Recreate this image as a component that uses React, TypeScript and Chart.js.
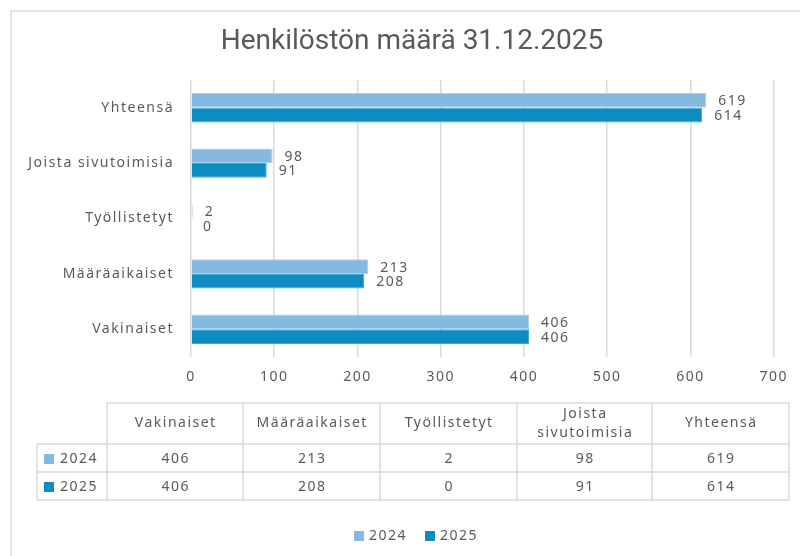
import React, { useEffect, useRef } from "react";
import { Chart, registerables } from "chart.js";

Chart.register(...registerables);

const TITLE = "Henkilöstön määrä 31.12.2025";
const categories = ["Yhteensä", "Joista sivutoimisia", "Työllistetyt", "Määräaikaiset", "Vakinaiset"];
const seriesNames = ["2024", "2025"];
const values2024 = [619, 98, 2, 213, 406];
const values2025 = [614, 91, 0, 208, 406];
const xMax = 700;
const xStep = 100;
const colors = ["#84B9E0", "#0E8BC0"];
const borderColors = ["#A9D0EE", "#3FA6D6"];

const FONT = "'Noto Sans', sans-serif";
const FSIZE = 14;
const SPACING = "1.5px";
const TEXT = "#595959";
const LINE = "#d9d9d9";

const setSpacing = (chart: any) => {
  (chart.ctx as any).letterSpacing = SPACING;
};

const decor = {
  id: "decor",
  beforeInit: setSpacing,
  beforeUpdate: setSpacing,
  beforeLayout: setSpacing,
  beforeDraw(chart: any) {
    setSpacing(chart);
    const ctx = chart.ctx as CanvasRenderingContext2D;
    ctx.save();
    ctx.fillStyle = "#ffffff";
    ctx.fillRect(0, 0, chart.width, chart.height);
    ctx.strokeStyle = LINE;
    ctx.lineWidth = 1.5;
    ctx.beginPath();
    ctx.moveTo(11, chart.height);
    ctx.lineTo(11, 11);
    ctx.lineTo(chart.width, 11);
    ctx.stroke();
    (ctx as any).letterSpacing = "0px";
    ctx.fillStyle = TEXT;
    ctx.font = "28px 'Roboto', sans-serif";
    ctx.textAlign = "center";
    ctx.textBaseline = "middle";
    ctx.fillText(TITLE, 412, 42);
    ctx.restore();
  },
  afterDatasetsDraw(chart: any) {
    const ctx = chart.ctx as CanvasRenderingContext2D;
    ctx.save();
    ctx.fillStyle = TEXT;
    ctx.font = FSIZE + "px " + FONT;
    ctx.textAlign = "left";
    ctx.textBaseline = "middle";
    chart.data.datasets.forEach((ds: any, di: number) => {
      const meta = chart.getDatasetMeta(di);
      meta.data.forEach((el: any, i: number) => {
        ctx.fillText(String(ds.data[i]), el.x + 12, el.y + 1);
      });
    });
    ctx.restore();
  },
  afterDraw(chart: any) {
    const ctx = chart.ctx as CanvasRenderingContext2D;
    ctx.save();
    const edges = [107, 243, 380, 517, 652, 789];
    const keyLeft = 37;
    const rows = [403, 444, 472, 500];
    const tableCats = [...categories].reverse();
    const tableVals = [[...values2024].reverse(), [...values2025].reverse()];
    ctx.strokeStyle = LINE;
    ctx.lineWidth = 1.5;
    ctx.beginPath();
    ctx.moveTo(edges[0], rows[0]);
    ctx.lineTo(edges[edges.length - 1], rows[0]);
    for (let r = 1; r < rows.length; r++) {
      ctx.moveTo(keyLeft, rows[r]);
      ctx.lineTo(edges[edges.length - 1], rows[r]);
    }
    edges.forEach((x) => {
      ctx.moveTo(x, rows[0]);
      ctx.lineTo(x, rows[rows.length - 1]);
    });
    ctx.moveTo(keyLeft, rows[1]);
    ctx.lineTo(keyLeft, rows[rows.length - 1]);
    ctx.stroke();

    ctx.fillStyle = TEXT;
    ctx.font = FSIZE + "px " + FONT;
    ctx.textAlign = "center";
    ctx.textBaseline = "middle";
    const half = 0.75;
    tableCats.forEach((c, i) => {
      const cx = (edges[i] + edges[i + 1]) / 2 + half;
      const w = edges[i + 1] - edges[i];
      const cy = (rows[0] + rows[1]) / 2;
      if (ctx.measureText(c).width > w - 16) {
        const words = c.split(" ");
        ctx.fillText(words[0], cx, cy - 9);
        ctx.fillText(words.slice(1).join(" "), cx, cy + 10);
      } else {
        ctx.fillText(c, cx, cy);
      }
    });
    tableVals.forEach((vals, r) => {
      const cy = (rows[r + 1] + rows[r + 2]) / 2 + 1;
      vals.forEach((v, i) => {
        ctx.fillText(String(v), (edges[i] + edges[i + 1]) / 2 + half, cy);
      });
      ctx.fillStyle = colors[r];
      ctx.fillRect(44, cy - 5, 10, 10);
      ctx.fillStyle = TEXT;
      ctx.textAlign = "left";
      ctx.fillText(seriesNames[r], 60, cy);
      ctx.textAlign = "center";
    });

    const legendX = [354, 425];
    const ly = 536;
    seriesNames.forEach((n, i) => {
      ctx.fillStyle = colors[i];
      ctx.fillRect(legendX[i], ly - 5, 10, 10);
      ctx.fillStyle = TEXT;
      ctx.textAlign = "left";
      ctx.fillText(n, legendX[i] + 15, ly);
    });
    ctx.restore();
  },
};

export default function App() {
  const ref = useRef<HTMLCanvasElement>(null);
  useEffect(() => {
    if (!ref.current) return;
    const chart = new Chart(ref.current, {
      type: "bar",
      data: {
        labels: categories,
        datasets: [
          {
            label: seriesNames[0],
            data: values2024,
            backgroundColor: colors[0],
            borderColor: borderColors[0],
            borderWidth: 1,
            barPercentage: 1,
            categoryPercentage: 0.53,
          },
          {
            label: seriesNames[1],
            data: values2025,
            backgroundColor: colors[1],
            borderColor: borderColors[1],
            borderWidth: 1,
            barPercentage: 1,
            categoryPercentage: 0.53,
          },
        ],
      },
      options: {
        indexAxis: "y",
        responsive: false,
        animation: false,
        devicePixelRatio: 1,
        layout: { padding: { top: 80, left: 0, right: 22, bottom: 159 } },
        plugins: {
          legend: { display: false },
          title: { display: false },
          tooltip: { enabled: false },
        },
        scales: {
          x: {
            min: 0,
            max: xMax,
            ticks: {
              stepSize: xStep,
              color: TEXT,
              font: { family: FONT, size: FSIZE },
              padding: 12,
            },
            grid: { color: LINE, lineWidth: 1.5, drawTicks: false },
            border: { display: false },
            afterFit: (s: any) => {
              s.height = 40;
            },
          },
          y: {
            ticks: {
              color: TEXT,
              font: { family: FONT, size: FSIZE },
              padding: 17,
            },
            grid: { display: false, drawTicks: false },
            border: { display: false },
            afterFit: (s: any) => {
              s.width = 191;
            },
          },
        },
      },
      plugins: [decor],
    });
    return () => chart.destroy();
  }, []);
  return (
    <div style={{ position: "absolute", left: 0, top: 0, width: 800, height: 556 }}>
      <canvas ref={ref} width={800} height={556} />
    </div>
  );
}
